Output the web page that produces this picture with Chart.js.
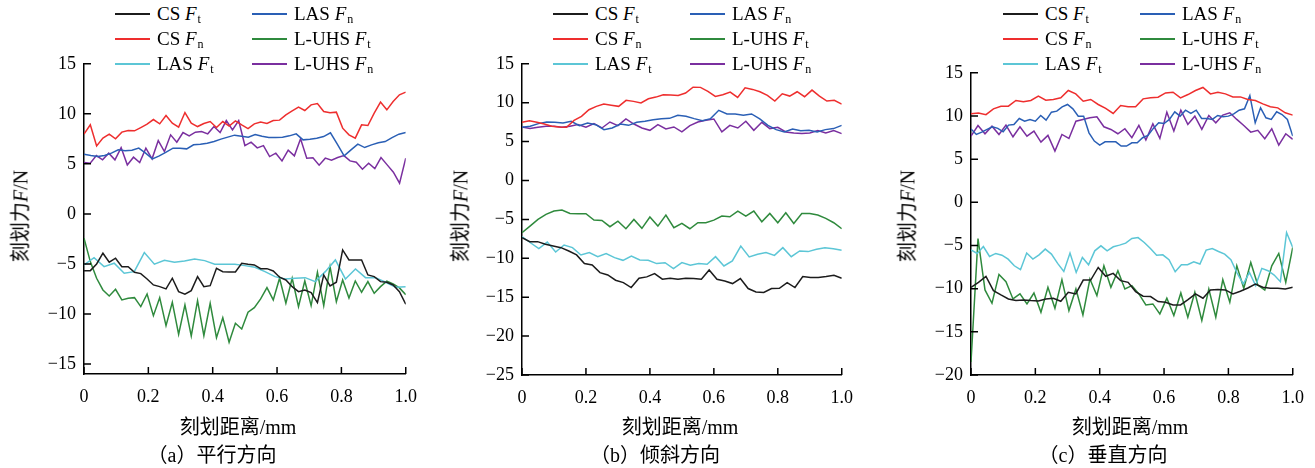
<!DOCTYPE html>
<html>
<head>
<meta charset="utf-8">
<script src="https://cdn.jsdelivr.net/npm/chart.js@4.4.1/dist/chart.umd.min.js"></script>
<style>
  body { margin: 0; width: 1315px; height: 468px; background: #fff; position: relative; overflow: hidden;
         font-family: "Liberation Serif", "Noto Sans CJK SC", serif; color: #000; }
  canvas { position: absolute; }
  .lg { position: absolute; height: 20px; display: flex; align-items: center; font-size: 19px; white-space: nowrap; }
  .lg .ln { display: inline-block; width: 35px; height: 2px; margin-right: 7px; }
  .sb { font-size: 12px; position: relative; top: 5px; margin-left: 1px; }
  .yt { position: absolute; font-size: 20px; white-space: nowrap; transform: translate(-50%, -50%) rotate(-90deg); }
  .xt, .cap { position: absolute; font-size: 20px; white-space: nowrap; transform: translate(-50%, -50%); }
</style>
</head>
<body>
<script>
// x axis ticks shared by all panels
const X_TICKS = [0, 0.2, 0.4, 0.6, 0.8, 1.0];
const Y_TICKS_A = [-15, -10, -5, 0, 5, 10, 15];
const Y_TICKS_B = [-25, -20, -15, -10, -5, 0, 5, 10, 15];
const Y_TICKS_C = [-20, -15, -10, -5, 0, 5, 10, 15];

// series: CS Ft, CS Fn, LAS Ft, LAS Fn, L-UHS Ft, L-UHS Fn
const SERIES_NAMES = ['CS', 'CS', 'LAS', 'LAS', 'L-UHS', 'L-UHS'];
const SERIES_SUBS = ['t', 'n', 't', 'n', 't', 'n'];
const SERIES_COLORS = ['#1c1c1c', '#ee2e2e', '#5cc6d6', '#2a5fb5', '#2f8a3d', '#7a2f9f'];

// (a) 平行方向
const a_csFt = [-5.67,-5.67,-5.0,-3.93,-4.83,-4.43,-5.27,-5.27,-5.83,-5.97,-6.5,-7.1,-7.27,-7.5,-6.43,-7.77,-8.03,-7.67,-6.27,-7.27,-7.17,-5.43,-5.77,-5.8,-5.8,-4.93,-5.03,-5.1,-5.47,-5.47,-5.7,-6.33,-6.6,-7.27,-7.77,-7.6,-7.87,-8.87,-6.1,-7.2,-6.83,-3.6,-4.6,-4.6,-4.6,-6.1,-6.27,-6.77,-6.83,-7.1,-7.77,-9.03];
const a_csFn = [7.97,8.9,6.8,7.57,7.97,7.5,8.17,8.33,8.3,8.63,8.97,9.43,9.0,9.83,9.07,8.67,10.13,9.07,8.73,9.03,9.23,8.63,9.23,8.77,9.3,8.9,8.53,9.0,9.17,9.03,9.33,9.37,9.9,10.3,10.67,10.33,10.9,11.03,10.23,10.1,10.17,8.57,7.9,7.57,8.9,8.83,10.07,11.17,10.4,11.23,11.9,12.17];
const a_lasFt = [-5.1,-4.37,-5.27,-4.93,-5.93,-5.77,-3.87,-5.03,-4.63,-4.83,-4.7,-4.5,-4.67,-5.03,-5.03,-5.03,-5.17,-5.33,-5.77,-6.27,-6.5,-6.43,-6.37,-6.77,-5.77,-4.6,-6.5,-5.5,-6.37,-6.37,-6.83,-7.33,-7.27];
const a_lasFn = [5.97,5.83,5.73,5.83,6.07,6.4,6.3,6.37,6.57,6.07,5.5,5.8,6.17,6.57,6.57,6.5,6.9,6.97,7.07,7.23,7.47,7.67,7.87,7.77,7.67,7.93,7.77,7.63,7.63,7.67,7.8,8.0,7.4,7.47,7.57,7.73,8.1,6.97,5.8,6.4,6.97,6.63,6.9,7.1,7.23,7.63,7.97,8.13];
const a_uhsFt = [-2.43,-4.77,-6.43,-7.6,-8.2,-7.53,-8.6,-8.43,-8.37,-9.27,-8.0,-10.17,-8.37,-11.17,-8.83,-12.03,-9.1,-12.2,-8.67,-12.17,-8.93,-12.37,-10.37,-12.83,-10.93,-11.5,-9.83,-9.37,-8.5,-7.37,-8.6,-6.43,-8.93,-6.43,-9.27,-6.7,-9.17,-5.83,-9.17,-5.27,-8.77,-6.6,-8.4,-6.7,-7.83,-6.77,-7.93,-7.27,-6.73,-7.0,-7.4,-8.07];
const a_uhsFn = [5.13,5.07,5.83,5.4,6.07,5.4,6.63,4.9,5.67,5.13,6.57,5.5,7.33,6.23,7.9,7.17,8.13,7.8,8.17,8.23,8.0,8.73,8.13,9.33,8.4,9.33,6.83,7.17,6.6,6.83,5.73,6.07,5.3,6.37,5.8,7.5,5.57,5.6,4.87,5.57,5.37,5.63,5.83,5.3,5.17,4.47,5.07,4.53,5.63,4.9,4.17,3.07,5.57];

// (b) 倾斜方向
const b_csFt = [-7.35,-7.86,-7.86,-8.2,-8.42,-8.63,-9.06,-9.57,-10.68,-10.85,-11.84,-12.14,-12.82,-13.12,-13.76,-12.56,-12.39,-11.97,-12.69,-12.56,-12.69,-12.56,-12.61,-12.69,-11.5,-12.69,-12.91,-13.25,-12.61,-13.89,-14.32,-14.4,-13.89,-13.85,-13.12,-13.76,-12.35,-12.48,-12.48,-12.35,-12.18,-12.56];
const b_csFn = [7.48,7.67,7.5,7.26,6.97,6.88,6.85,7.73,8.25,9.1,9.53,9.82,9.67,9.53,10.3,10.17,9.96,10.51,10.72,11.03,10.98,10.94,11.24,12.0,11.97,11.45,10.81,11.03,11.37,10.68,11.92,11.71,11.41,10.94,10.21,11.15,10.85,11.41,10.77,11.62,10.85,10.21,10.3,9.82];
const b_lasFt = [-7.22,-8.0,-8.76,-7.91,-9.19,-8.29,-8.63,-9.57,-9.27,-9.79,-9.4,-9.91,-10.26,-9.7,-10.21,-10.26,-10.68,-10.56,-11.33,-10.56,-10.9,-10.68,-10.77,-9.79,-10.98,-10.34,-8.42,-9.83,-9.49,-9.27,-9.62,-8.63,-9.79,-9.06,-9.14,-8.85,-8.63,-8.76,-8.97];
const b_lasFn = [6.84,6.97,7.31,7.52,7.48,7.39,7.61,7.05,7.39,7.18,6.54,6.75,7.26,7.09,7.48,7.61,7.82,7.95,7.99,8.38,8.25,7.95,7.69,7.95,9.02,8.55,8.55,8.38,8.55,7.91,7.09,6.54,6.24,6.62,6.41,6.45,6.24,6.54,6.67,7.09];
const b_uhsFt = [-6.71,-5.86,-5.0,-4.36,-3.93,-3.8,-4.23,-4.27,-4.27,-5.09,-5.13,-5.94,-5.22,-6.2,-5.0,-6.15,-4.7,-5.86,-4.44,-6.07,-5.52,-6.2,-5.43,-5.43,-5.09,-4.57,-4.66,-3.93,-4.57,-3.93,-5.3,-4.23,-5.43,-4.14,-5.52,-4.23,-4.23,-4.44,-4.87,-5.43,-6.2];
const b_uhsFn = [6.88,6.67,6.84,6.97,6.97,6.84,6.97,7.18,6.84,7.31,6.75,7.52,7.05,7.91,7.26,6.75,6.45,7.18,6.62,6.88,6.24,7.05,7.52,7.73,7.91,6.24,7.09,6.75,7.61,6.45,7.48,6.67,6.84,6.24,6.11,6.03,6.11,6.41,6.11,6.41,6.03];

// (c) 垂直方向
const c_csFt = [-9.84,-9.27,-8.57,-10.23,-10.73,-11.2,-11.38,-11.3,-11.38,-11.42,-11.2,-11.11,-11.46,-10.42,-10.61,-9.0,-9.0,-7.54,-8.57,-8.23,-9.07,-9.27,-10.34,-10.88,-10.92,-11.5,-11.57,-11.88,-11.88,-11.27,-10.61,-11.11,-10.15,-10.11,-10.15,-10.61,-10.3,-9.92,-9.46,-9.84,-9.96,-9.96,-10.03,-9.84];
const c_csFn = [10.27,10.35,10.15,10.83,11.13,11.13,11.79,11.64,11.79,12.29,11.83,11.91,12.1,12.95,12.56,11.71,11.91,11.33,10.87,10.29,11.21,11.06,11.06,11.98,12.1,12.17,12.67,12.75,12.1,12.48,12.95,13.3,12.56,12.75,12.56,12.21,12.21,11.91,11.79,11.4,11.06,10.94,10.37,10.1];
const c_lasFt = [-5.5,-5.92,-5.12,-6.27,-5.92,-6.12,-6.58,-7.35,-7.8,-5.88,-6.58,-6.08,-5.42,-6.0,-7.07,-8.0,-5.88,-8.12,-6.38,-7.23,-5.62,-5.04,-5.62,-5.15,-4.96,-4.73,-4.19,-4.08,-4.65,-5.35,-6.12,-6.08,-6.65,-8.04,-7.23,-7.23,-6.88,-7.15,-5.54,-5.35,-5.69,-6.0,-6.65,-8.19,-9.46,-8.12,-9.65,-7.65,-7.92,-8.42,-9.19,-3.5,-5.23];
const c_lasFn = [8.5,7.86,8.13,8.44,8.75,8.56,8.17,8.94,9.02,9.71,9.4,9.6,9.4,10.06,9.52,10.44,10.56,11.06,11.33,10.83,9.98,9.98,8.05,7.09,6.63,7.01,7.01,7.01,6.52,6.52,6.9,6.9,7.48,7.75,8.56,9.21,9.13,9.6,10.48,9.98,10.67,10.29,10.67,9.71,9.71,9.6,10.06,9.9,9.98,10.25,10.67,10.83,12.37,9.21,10.94,9.79,9.6,10.48,10.17,9.6,7.67];
const c_uhsFt = [-18.5,-4.19,-10.15,-11.69,-8.35,-9.19,-11.19,-10.61,-11.77,-10.5,-12.73,-9.84,-12.27,-8.96,-12.54,-10.04,-13.04,-8.88,-10.8,-7.35,-9.84,-7.92,-10.04,-9.65,-10.61,-11.88,-11.77,-12.92,-11.11,-13.12,-10.5,-13.31,-10.42,-13.69,-10.04,-13.31,-8.96,-11.57,-7.35,-9.96,-6.96,-9.58,-10.15,-7.35,-5.92,-9.27,-5.23];
const c_uhsFn = [7.67,8.9,7.94,8.82,7.86,8.94,7.59,8.75,7.67,8.25,6.98,7.75,5.93,7.86,7.4,9.4,9.6,9.79,9.9,8.75,8.44,7.94,8.52,7.48,8.9,7.21,9.09,7.4,10.44,8.25,10.67,9.02,9.98,8.44,10.06,9.21,10.1,10.37,9.6,8.9,8.13,8.33,7.36,8.52,6.63,7.94,7.29];

const CAPTIONS = ['（a）平行方向', '（b）倾斜方向', '（c）垂直方向'];

// layout of each panel (chart area box in page pixels)
const panels = [
  { box: [84, 64, 406, 374],  yMin: -16, yMax: 15, yTicks: Y_TICKS_A, legendX: [115, 252],
    series: [a_csFt, a_csFn, a_lasFt, a_lasFn, a_uhsFt, a_uhsFn], yTitleX: 19, xTitleX: 238, capX: 212 },
  { box: [522, 64, 842, 375], yMin: -25, yMax: 15, yTicks: Y_TICKS_B, legendX: [553, 690],
    series: [b_csFt, b_csFn, b_lasFt, b_lasFn, b_uhsFt, b_uhsFn], yTitleX: 459, xTitleX: 680, capX: 655 },
  { box: [971, 73, 1293, 375], yMin: -20, yMax: 15, yTicks: Y_TICKS_C, legendX: [1003, 1140],
    series: [c_csFt, c_csFn, c_lasFt, c_lasFn, c_uhsFt, c_uhsFn], yTitleX: 906, xTitleX: 1130, capX: 1103 }
];

const Y_AXIS_W = 70, X_AXIS_H = 40, PAD_TOP = 12, PAD_RIGHT = 16;
const FONT = { family: "'Liberation Serif', serif", size: 18 };

// inward tick marks drawn from the scales
const innerTicks = {
  id: 'innerTicks',
  afterDraw(chart) {
    const ctx = chart.ctx, area = chart.chartArea;
    const xs = chart.scales.x, ys = chart.scales.y;
    ctx.save();
    ctx.strokeStyle = '#000';
    ctx.lineWidth = 1.5;
    ctx.beginPath();
    xs.ticks.forEach(t => {
      const px = xs.getPixelForValue(t.value);
      ctx.moveTo(px, area.bottom);
      ctx.lineTo(px, area.bottom - 7);
    });
    ys.ticks.forEach(t => {
      const py = ys.getPixelForValue(t.value);
      ctx.moveTo(area.left, py);
      ctx.lineTo(area.left + 7, py);
    });
    ctx.stroke();
    ctx.restore();
  }
};

function fmtY(v) { return v < 0 ? '\u2212' + Math.abs(v) : String(v); }
function fmtX(v) { return v === 0 ? '0' : v.toFixed(1); }

function addDiv(cls, html, x, y) {
  const d = document.createElement('div');
  d.className = cls;
  d.innerHTML = html;
  d.style.left = x + 'px';
  d.style.top = y + 'px';
  document.body.appendChild(d);
  return d;
}

function buildChart(canvas, p, w, h) {
  canvas.width = w;
  canvas.height = h;
  canvas.style.width = w + 'px';
  canvas.style.height = h + 'px';
  const datasets = p.series.map((vals, si) => ({
    data: vals.map((v, i) => ({ x: i / (vals.length - 1), y: v })),
    borderColor: SERIES_COLORS[si],
    borderWidth: 1.5,
    pointRadius: 0,
    tension: 0,
    fill: false
  }));
  return new Chart(canvas.getContext('2d'), {
    type: 'line',
    data: { datasets: datasets },
    options: {
      responsive: false,
      animation: false,
      devicePixelRatio: 1,
      layout: { padding: { top: PAD_TOP, right: PAD_RIGHT, left: 0, bottom: 0 } },
      plugins: { legend: { display: false }, tooltip: { enabled: false } },
      scales: {
        x: {
          type: 'linear', min: 0, max: 1,
          afterBuildTicks: s => { s.ticks = X_TICKS.map(v => ({ value: v })); },
          afterFit: s => { s.height = X_AXIS_H; },
          grid: { display: false, drawTicks: false },
          border: { display: true, color: '#000', width: 1.5 },
          ticks: { font: FONT, color: '#000', padding: 12, maxRotation: 0, autoSkip: false, callback: fmtX }
        },
        y: {
          type: 'linear', min: p.yMin, max: p.yMax,
          afterBuildTicks: s => { s.ticks = p.yTicks.map(v => ({ value: v })); },
          afterFit: s => { s.width = Y_AXIS_W; },
          grid: { display: false, drawTicks: false },
          border: { display: true, color: '#000', width: 1.5 },
          ticks: { font: FONT, color: '#000', padding: 8, autoSkip: false, callback: fmtY }
        }
      }
    },
    plugins: [innerTicks]
  });
}

function drawAll() {
  panels.forEach((p, pi) => {
    const [l, t, r, b] = p.box;
    const canvas = document.createElement('canvas');
    document.body.appendChild(canvas);
    let w = Y_AXIS_W + (r - l) + PAD_RIGHT;
    let h = PAD_TOP + (b - t) + X_AXIS_H;
    let chart = buildChart(canvas, p, w, h);
    // correct the canvas size so the plot area lands on the wanted box
    let ca = chart.chartArea;
    const dw = Math.round((r - l) - (ca.right - ca.left));
    const dh = Math.round((b - t) - (ca.bottom - ca.top));
    if (dw || dh) {
      chart.destroy();
      chart = buildChart(canvas, p, w + dw, h + dh);
      ca = chart.chartArea;
    }
    canvas.style.left = (l - ca.left) + 'px';
    canvas.style.top = (t - ca.top) + 'px';

    // legend: two columns, three rows
    SERIES_NAMES.forEach((name, si) => {
      const col = si < 3 ? 0 : 1;
      const row = si % 3;
      const html = '<span class="ln" style="background:' + SERIES_COLORS[si] + '"></span>' +
        name + '&nbsp;<i>F</i><span class="sb">' + SERIES_SUBS[si] + '</span>';
      addDiv('lg', html, p.legendX[col], 4 + row * 25);
    });

    addDiv('yt', '刻划力<i>F</i>/N', p.yTitleX, 216);
    addDiv('xt', '刻划距离/mm', p.xTitleX, 425);
    addDiv('cap', CAPTIONS[pi], p.capX, 453);
  });
}

Promise.all([
  document.fonts.load('18px "Liberation Serif"'),
  document.fonts.load('italic 18px "Liberation Serif"'),
  document.fonts.load('20px "Noto Sans CJK SC"')
]).then(drawAll, drawAll);
</script>
</body>
</html>
